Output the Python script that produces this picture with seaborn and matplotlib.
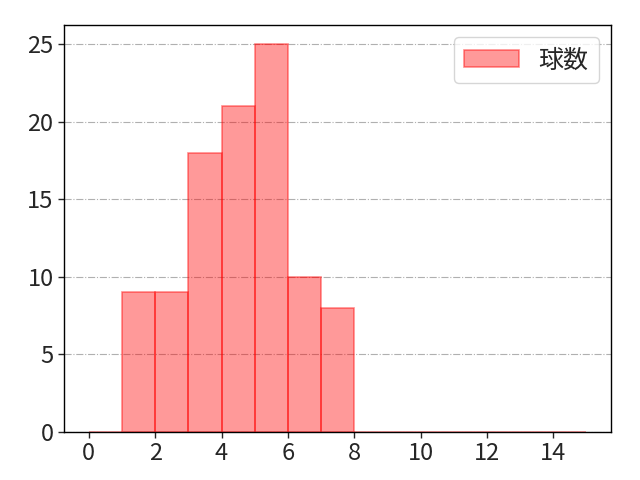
import numpy as np
import pandas as pd
import matplotlib
matplotlib.use('Agg')
import matplotlib.pyplot as plt
import seaborn as sns

bin_left = list(range(0, 15))
counts = [0, 9, 9, 18, 21, 25, 10, 8, 0, 0, 0, 0, 0, 0, 0]
label = '球数'

sns.set_style('white')
plt.rcParams['font.family'] = ['Noto Sans CJK JP', 'DejaVu Sans']

df = pd.DataFrame({'x': [b + 0.5 for b in bin_left], 'w': counts})

fig, ax = plt.subplots(figsize=(6.4, 4.8), dpi=100)
sns.histplot(data=df, x='x', weights='w', bins=list(range(0, 16)), ax=ax,
             color='red', alpha=0.4, edgecolor=(1, 0, 0, 0.45), linewidth=1.2, label=label)
for p in ax.patches:
    p.set_alpha(None)
    p.set_facecolor((1, 0, 0, 0.4))
    p.set_edgecolor((1, 0, 0, 0.45))
ax.set_xlabel('')
ax.set_ylabel('')
ax.set_yticks([0, 5, 10, 15, 20, 25])
ax.set_xticks([0, 2, 4, 6, 8, 10, 12, 14])
ax.tick_params(axis='both', labelsize=17, length=4, width=1, bottom=True, left=True)
ax.grid(axis='y', linestyle='-.', color='#b0b0b0', linewidth=0.8)
ax.set_axisbelow(True)
for s in ax.spines.values():
    s.set_color('black')
    s.set_linewidth(1)
ax.legend(fontsize=18, loc='upper right', borderaxespad=0.5, handlelength=2.2)
fig.subplots_adjust(left=0.1, right=0.955, top=0.948, bottom=0.1)
fig.savefig('out.png', dpi=100)
